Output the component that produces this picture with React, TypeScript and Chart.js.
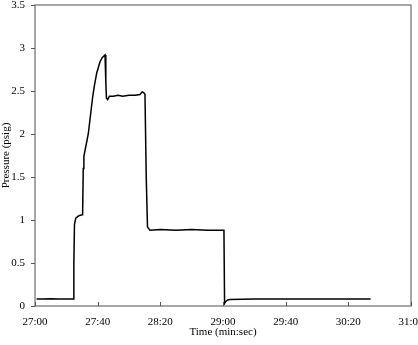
import React, { useEffect, useRef } from "react";
import { Chart, registerables } from "chart.js";

Chart.register(...registerables);

// time in seconds (absolute, minutes*60 + seconds)
const timeSec = [
  1621, 1625, 1630, 1635, 1640, 1644.4, 1644.8, 1645.2, 1646, 1648, 1650, 1650.4,
  1650.8, 1651.2, 1654, 1656.8, 1657.8, 1659.4, 1661.5, 1663, 1664.7, 1665.2,
  1665.6, 1666.4, 1667.5, 1670, 1673, 1676, 1680, 1684, 1687, 1688.5, 1689.5,
  1690.2, 1691, 1691.8, 1693.4, 1700, 1710, 1720, 1730, 1740.6, 1741, 1741.6,
  1743, 1744.4, 1760, 1780, 1800, 1820, 1834.2,
];
const pressure = [
  0.08, 0.08, 0.085, 0.08, 0.08, 0.08, 0.5, 0.95, 1.02, 1.05, 1.06, 1.08,
  1.6, 1.74, 2.0, 2.43, 2.55, 2.71, 2.84, 2.89, 2.92, 2.6,
  2.42, 2.4, 2.44, 2.44, 2.45, 2.44, 2.45, 2.45, 2.46, 2.49, 2.48,
  2.46, 1.5, 0.92, 0.88, 0.89, 0.88, 0.89, 0.88, 0.88, 0.03, 0.05,
  0.07, 0.075, 0.08, 0.08, 0.08, 0.08, 0.08,
];
const xMin = 1620;
const xMax = 1860;
const xStep = 40;
const yMin = 0;
const yMax = 3.5;
const yStep = 0.5;

const FONT = "'Liberation Serif', 'DejaVu Serif', serif";
const AXIS_COLOR = "#8a8a8a";

function fmt(v: number): string {
  const m = Math.floor(v / 60);
  const s = Math.round(v - m * 60);
  return m + ":" + (s < 10 ? "0" + s : String(s));
}

const frameAndTicks = {
  id: "frameAndTicks",
  afterDraw(chart: any) {
    const { ctx, chartArea: a, scales } = chart;
    ctx.save();
    ctx.strokeStyle = AXIS_COLOR;
    ctx.lineWidth = 1.5;
    ctx.strokeRect(a.left, a.top, a.right - a.left, a.bottom - a.top);
    ctx.lineWidth = 1;
    ctx.strokeStyle = "#555";
    for (const t of scales.x.ticks) {
      const px = Math.round(scales.x.getPixelForValue(t.value)) + 0.5;
      ctx.beginPath();
      ctx.moveTo(px, a.bottom);
      ctx.lineTo(px, a.bottom - 4);
      ctx.stroke();
    }
    for (const t of scales.y.ticks) {
      const py = Math.round(scales.y.getPixelForValue(t.value)) + 0.5;
      ctx.beginPath();
      ctx.moveTo(a.left, py);
      ctx.lineTo(a.left - 4, py);
      ctx.stroke();
    }
    ctx.restore();
  },
};

export default function App() {
  const ref = useRef<HTMLCanvasElement>(null);
  useEffect(() => {
    if (!ref.current) return;
    const chart = new Chart(ref.current, {
      type: "line",
      data: {
        datasets: [
          {
            data: timeSec.map((t, i) => ({ x: t, y: pressure[i] })),
            borderColor: "#000",
            borderWidth: 1.5,
            pointRadius: 0,
            tension: 0,
            fill: false,
          },
        ],
      },
      plugins: [frameAndTicks],
      options: {
        responsive: false,
        animation: false,
        layout: { padding: { top: 5, right: 7, left: 0, bottom: 0 } },
        plugins: { legend: { display: false }, tooltip: { enabled: false } },
        scales: {
          x: {
            type: "linear",
            min: xMin,
            max: xMax,
            grid: { display: false, drawTicks: false },
            border: { display: false },
            ticks: {
              stepSize: xStep,
              callback: (v: any) => fmt(Number(v)),
              color: "#000",
              font: { family: FONT, size: 11 },
              padding: 10,
              maxRotation: 0,
              autoSkip: false,
            },
            title: {
              display: true,
              text: "Time (min:sec)",
              color: "#000",
              font: { family: FONT, size: 11 },
              padding: { top: 0, bottom: 6 },
            },
            afterFit: (s: any) => {
              s.height = 39;
              s.paddingLeft = 0;
              s.paddingRight = 0;
            },
          },
          y: {
            min: yMin,
            max: yMax,
            grid: { display: false, drawTicks: false },
            border: { display: false },
            ticks: {
              stepSize: yStep,
              callback: (v: any) => String(Number(v)),
              color: "#000",
              font: { family: FONT, size: 11 },
              padding: 10,
            },
            title: {
              display: true,
              text: "Pressure (psig)",
              color: "#000",
              font: { family: FONT, size: 11 },
              padding: { top: 0, bottom: 0 },
            },
            afterFit: (s: any) => {
              s.width = 35;
              s.paddingTop = 0;
              s.paddingBottom = 0;
            },
          },
        },
      },
    });
    return () => chart.destroy();
  }, []);
  return (
    <div style={{ position: "absolute", left: 0, top: 0, width: 418, height: 345, background: "#fff" }}>
      <canvas ref={ref} width={418} height={345} />
    </div>
  );
}
